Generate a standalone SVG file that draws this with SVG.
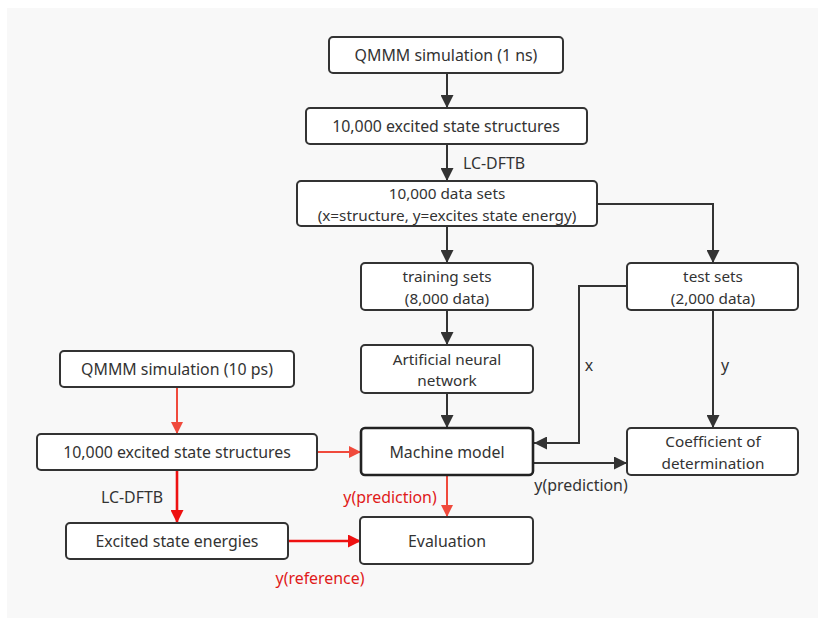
<svg xmlns="http://www.w3.org/2000/svg" width="818" height="618" viewBox="0 0 818 618">
  <defs>
    <style>
      .box { fill: #ffffff; stroke: #333333; stroke-width: 2; }
      .box-strong { fill: #ffffff; stroke: #222222; stroke-width: 2.6; }
      text { font-family: "Noto Sans", "Open Sans", "DejaVu Sans", sans-serif; font-size: 15.9px; fill: #333333; }
      text.two { font-size: 15.3px; }
      .lbl { text-anchor: middle; dominant-baseline: central; }
      .red-lbl { fill: #e01a1a; }
      .edge { fill: none; stroke: #333333; stroke-width: 2; }
      .edge-red { fill: none; stroke: #f04a3c; stroke-width: 2; }
      .edge-red-strong { fill: none; stroke: #ee1111; stroke-width: 2.6; }
    </style>
    <marker id="arrow-dark" viewBox="0 0 12 12" refX="12" refY="6" markerWidth="13" markerHeight="13" markerUnits="userSpaceOnUse" orient="auto">
      <path d="M0,0 L12,6 L0,12 Z" fill="#333333"/>
    </marker>
    <marker id="arrow-red" viewBox="0 0 12 12" refX="12" refY="6" markerWidth="12" markerHeight="12" markerUnits="userSpaceOnUse" orient="auto">
      <path d="M0,0 L12,6 L0,12 Z" fill="#f04a3c"/>
    </marker>
    <marker id="arrow-red-strong" viewBox="0 0 12 12" refX="12" refY="6" markerWidth="13" markerHeight="13" markerUnits="userSpaceOnUse" orient="auto">
      <path d="M0,0 L12,6 L0,12 Z" fill="#ee1111"/>
    </marker>
  </defs>

  <!-- canvas -->
  <rect x="0" y="0" width="818" height="618" fill="#ffffff"/>
  <rect x="7" y="8" width="811" height="610" fill="#f8f8f8"/>

  <!-- connectors -->
  <g id="connectors">
    <path class="edge" d="M447,73 V108" marker-end="url(#arrow-dark)"/>
    <path class="edge" d="M447,144 V181" marker-end="url(#arrow-dark)"/>
    <path class="edge" d="M447,226 V263" marker-end="url(#arrow-dark)"/>
    <path class="edge" d="M597,204 H713 V263" marker-end="url(#arrow-dark)"/>
    <path class="edge" d="M447,310 V345" marker-end="url(#arrow-dark)"/>
    <path class="edge" d="M447,393 V428" marker-end="url(#arrow-dark)"/>
    <path class="edge" d="M627,286 H579 V443 H534" marker-end="url(#arrow-dark)"/>
    <path class="edge" d="M713,310 V428" marker-end="url(#arrow-dark)"/>
    <path class="edge" d="M534,463 H627" marker-end="url(#arrow-dark)"/>

    <path class="edge-red" d="M177,387 V434" marker-end="url(#arrow-red)"/>
    <path class="edge-red" d="M317,452 H361" marker-end="url(#arrow-red)"/>
    <path class="edge-red" d="M447,476 V517" marker-end="url(#arrow-red)"/>
    <path class="edge-red-strong" d="M177,470 V523" marker-end="url(#arrow-red-strong)"/>
    <path class="edge-red-strong" d="M288,541 H361" marker-end="url(#arrow-red-strong)"/>

    <text x="494" y="163" class="lbl">LC-DFTB</text>
    <text x="589" y="365" class="lbl">x</text>
    <text x="725" y="365" class="lbl">y</text>
    <text x="581" y="485" class="lbl">y(prediction)</text>
    <text x="132" y="497" class="lbl">LC-DFTB</text>
    <text x="390" y="497" class="lbl red-lbl">y(prediction)</text>
    <text x="320" y="578" class="lbl red-lbl">y(reference)</text>
  </g>

  <!-- nodes -->
  <g id="qmmm-1ns">
    <rect class="box" x="329" y="37" width="234" height="36" rx="4"/>
    <text x="446" y="55" class="lbl">QMMM simulation (1 ns)</text>
  </g>
  <g id="structures-main">
    <rect class="box" x="306" y="108" width="281" height="36" rx="4"/>
    <text x="446" y="126" class="lbl">10,000 excited state structures</text>
  </g>
  <g id="data-sets">
    <rect class="box" x="297" y="181" width="300" height="45" rx="4"/>
    <text x="447" y="193" class="lbl two">10,000 data sets</text>
    <text x="447" y="214.5" class="lbl two">(x=structure, y=excites state energy)</text>
  </g>
  <g id="training-sets">
    <rect class="box" x="361" y="263" width="172" height="47" rx="4"/>
    <text x="447" y="276" class="lbl two">training sets</text>
    <text x="447" y="297.5" class="lbl two">(8,000 data)</text>
  </g>
  <g id="test-sets">
    <rect class="box" x="627" y="263" width="171" height="47" rx="4"/>
    <text x="713" y="276" class="lbl two">test sets</text>
    <text x="713" y="297.5" class="lbl two">(2,000 data)</text>
  </g>
  <g id="ann">
    <rect class="box" x="361" y="345" width="172" height="48" rx="4"/>
    <text x="447" y="358.5" class="lbl two">Artificial neural</text>
    <text x="447" y="380" class="lbl two">network</text>
  </g>
  <g id="machine-model">
    <rect class="box-strong" x="361" y="428" width="172" height="47" rx="4"/>
    <text x="447" y="452" class="lbl">Machine model</text>
  </g>
  <g id="coefficient">
    <rect class="box" x="627" y="428" width="171" height="47" rx="4"/>
    <text x="713" y="441" class="lbl two">Coefficient of</text>
    <text x="713" y="462.5" class="lbl two">determination</text>
  </g>
  <g id="qmmm-10ps">
    <rect class="box" x="60" y="351" width="234" height="36" rx="4"/>
    <text x="177" y="369" class="lbl">QMMM simulation (10 ps)</text>
  </g>
  <g id="structures-side">
    <rect class="box" x="37" y="434" width="280" height="36" rx="4"/>
    <text x="177" y="452" class="lbl">10,000 excited state structures</text>
  </g>
  <g id="energies">
    <rect class="box" x="66" y="523" width="222" height="36" rx="4"/>
    <text x="177" y="541" class="lbl">Excited state energies</text>
  </g>
  <g id="evaluation">
    <rect class="box" x="360" y="517" width="173" height="47" rx="4"/>
    <text x="447" y="541" class="lbl">Evaluation</text>
  </g>
</svg>
